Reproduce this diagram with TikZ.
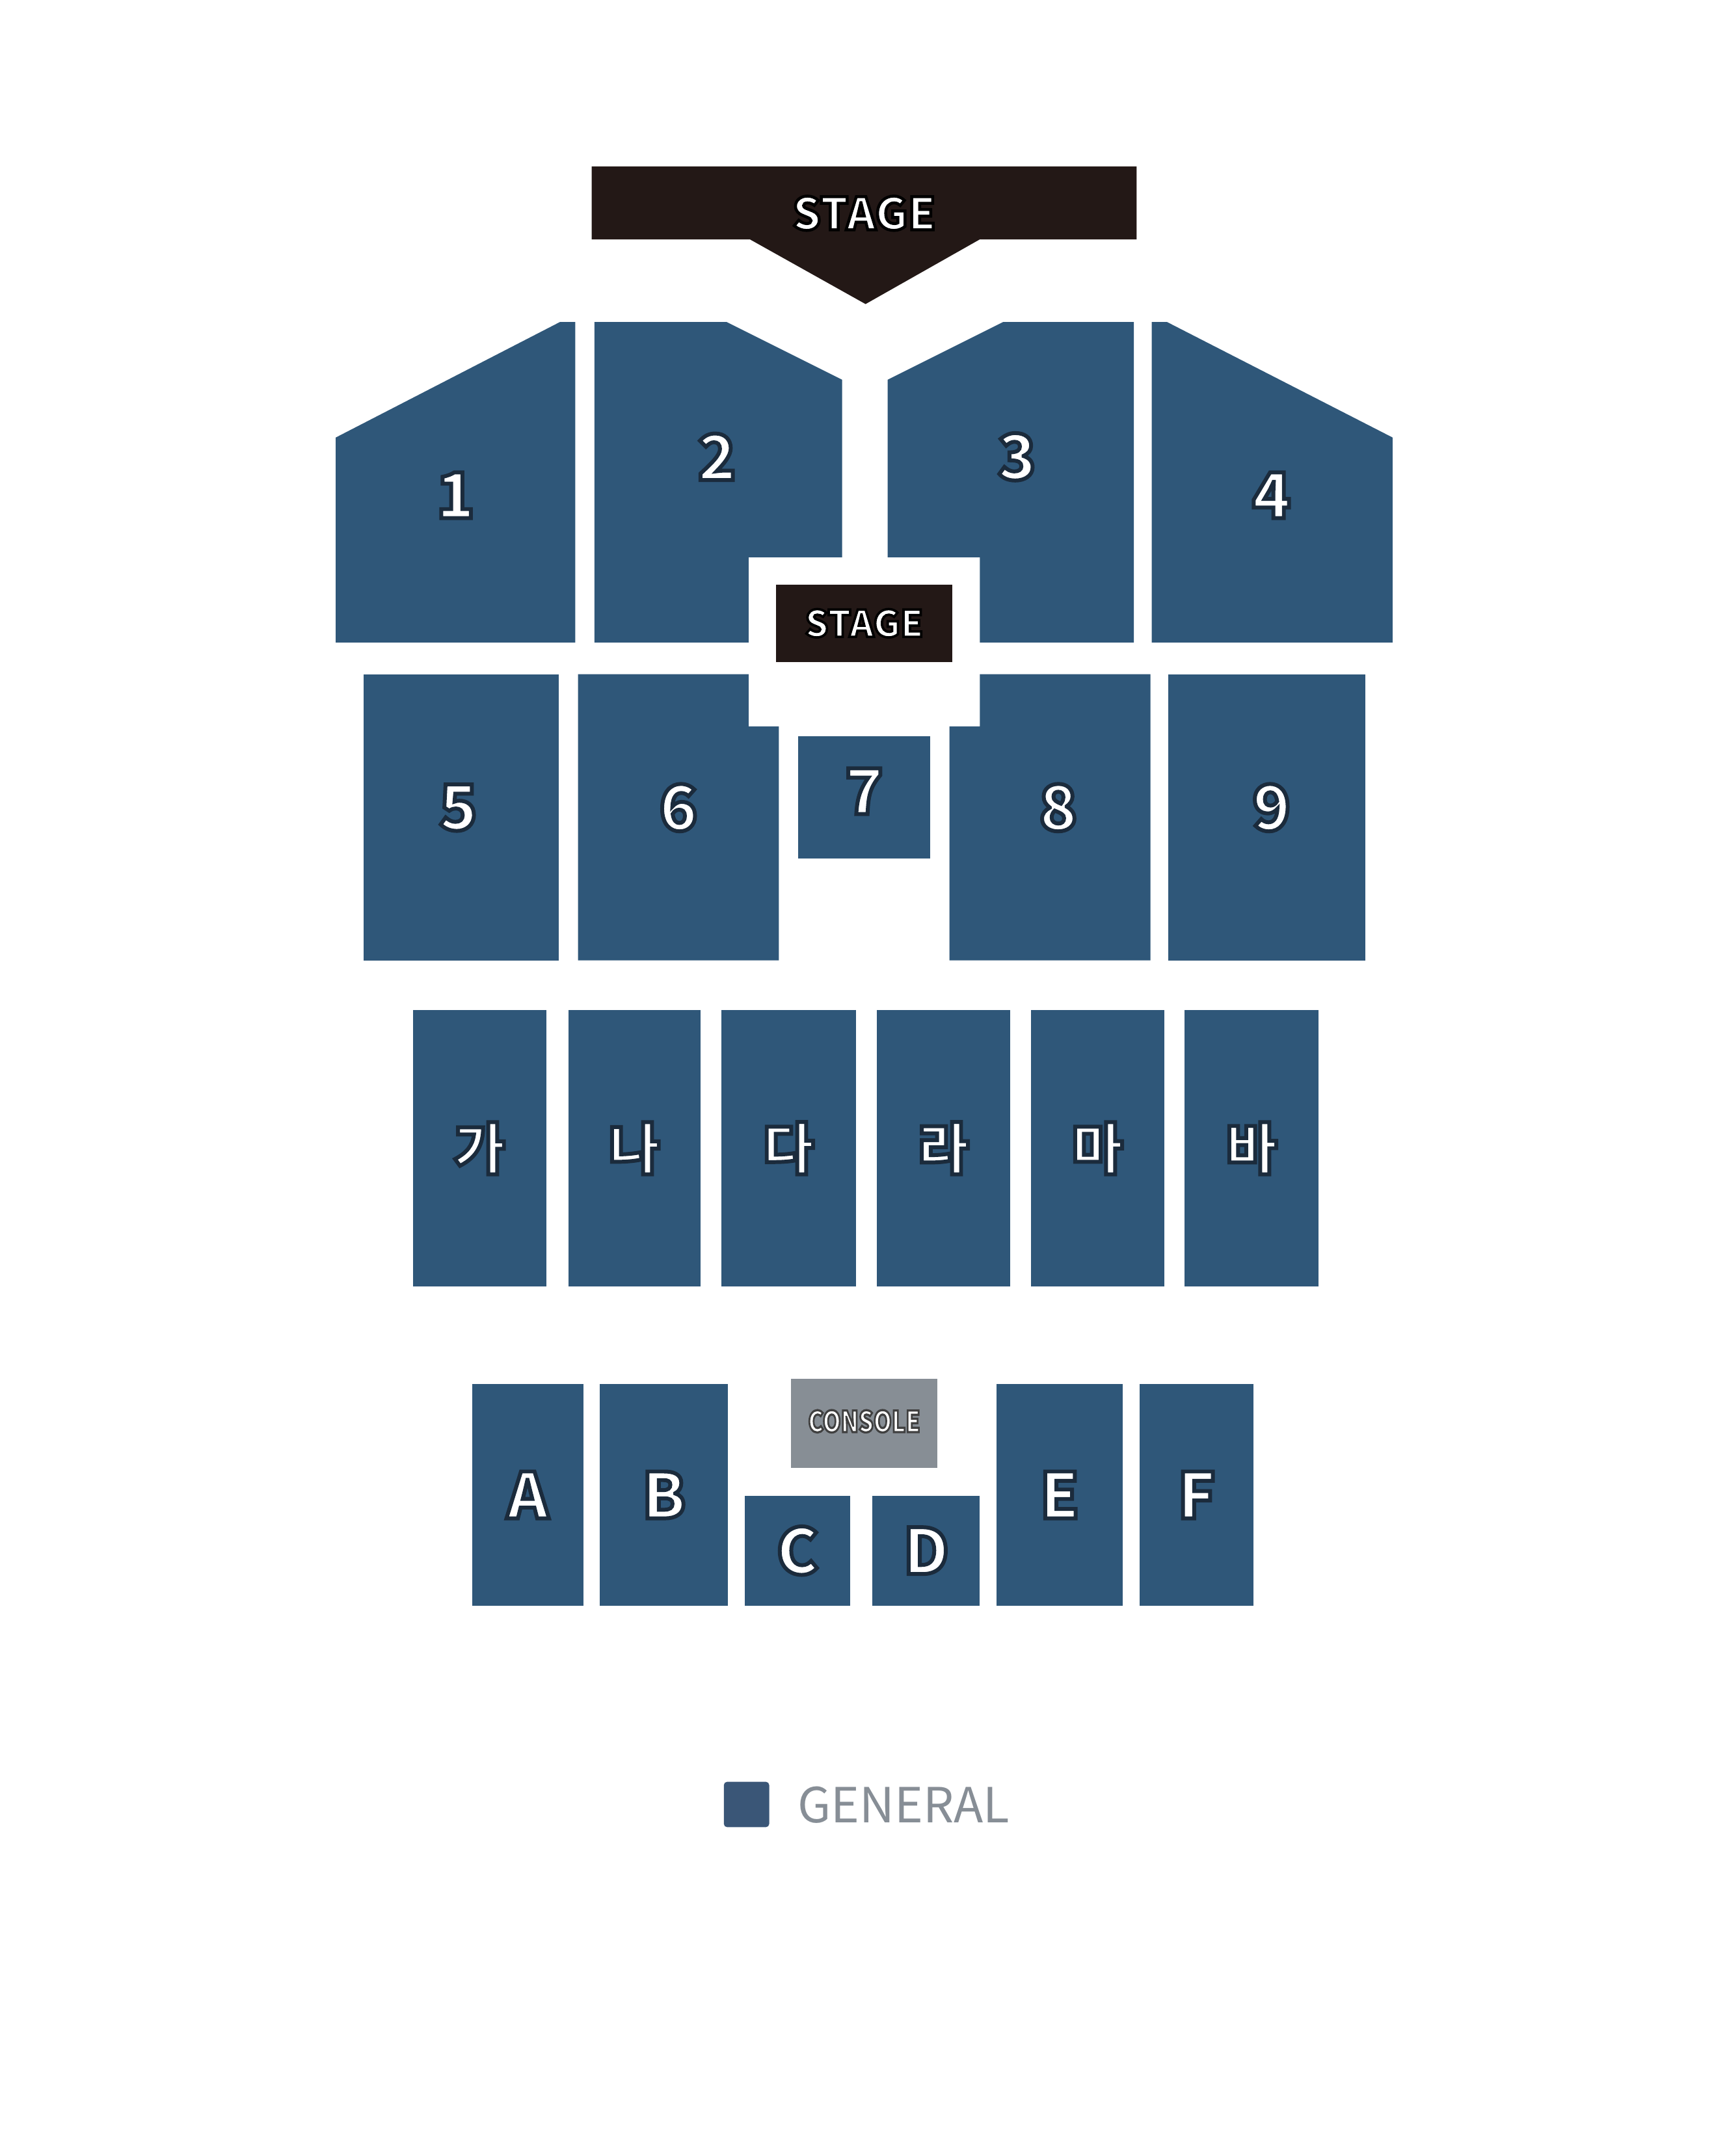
\documentclass[tikz,border=0pt]{standalone}
\usepackage{fontspec}
\usepackage{graphicx}
\newfontfamily\krfont{Noto Sans CJK KR}

\definecolor{seatblue}{HTML}{2F5779}
\definecolor{legendblue}{HTML}{3A5677}
\definecolor{stageblack}{HTML}{231816}
\definecolor{consolegray}{HTML}{878E95}
\definecolor{generalgray}{HTML}{878E96}

% white letters with a dark rim (fill, then stroke)
\newcommand\rimtext[3]{\special{pdf:literal direct #1 RG #2 w 2 Tr}#3\special{pdf:literal direct 0 Tr}}
\newcommand\seatlabel[1]{\rimtext{0.106 0.169 0.235}{0.8}{#1}}
\newcommand\hangul{\fontsize{11.5}{11.5}\selectfont}
\newcommand\seatrect[6]{
  \fill[seat] (#1, #2) rectangle (#3, #4) ;
  \node[seatname] (#5) at ({(#1 + #3) * 0.5}, {(#2 + #4) * 0.5}) {\seatlabel{#6}} ;
}

\tikzset{
  seat/.style={fill=seatblue},
  seatname/.style={text=white, inner sep=0pt, font=\krfont\bfseries\fontsize{13}{13}\selectfont},
  stage/.style={fill=stageblack},
  stagename/.style={text=white, inner sep=0pt, font=\krfont\bfseries\fontsize{9.2}{9.2}\selectfont},
}

\begin{document}
\begin{tikzpicture}[x=0.01cm, y=-0.01cm]
    \useasboundingbox[fill=white] (0, 0) rectangle (1255, 1567) ;
    % main stage
    \fill[stage] (430, 121) -- (826, 121) -- (826, 174) -- (712, 174)
       -- (629, 221) -- (545, 174) -- (430, 174) -- cycle ;
    \node[stagename] (mainstage) at (628, 155) {\rimtext{0 0 0}{0.6}{STAGE}} ;
    % floor, front blocks
    \fill[seat] (244, 318) -- (407, 234) -- (418, 234) -- (418, 467) -- (244, 467) -- cycle ;
    \node[seatname] (s1) at (331, 360) {\seatlabel{1}} ;
    \fill[seat] (432, 234) -- (528, 234) -- (612, 276) -- (612, 405)
       -- (544, 405) -- (544, 467) -- (432, 467) -- cycle ;
    \node[seatname] (s2) at (521, 332) {\seatlabel{2}} ;
    \fill[seat] (645, 276) -- (729, 234) -- (824, 234) -- (824, 467)
       -- (712, 467) -- (712, 405) -- (645, 405) -- cycle ;
    \node[seatname] (s3) at (739, 332) {\seatlabel{3}} ;
    \fill[seat] (837, 234) -- (848, 234) -- (1012, 318) -- (1012, 467) -- (837, 467) -- cycle ;
    \node[seatname] (s4) at (924, 360) {\seatlabel{4}} ;
    % sub stage
    \fill[stage] (564, 425) rectangle (692, 481) ;
    \node[stagename, font=\krfont\bfseries\fontsize{7.6}{7.6}\selectfont] (substage) at (628, 453) {\rimtext{0 0 0}{0.5}{STAGE}} ;
    % second row
    \fill[seat] (264, 490) rectangle (406, 698) ;
    \node[seatname] (s5) at (333, 587) {\seatlabel{5}} ;
    \fill[seat] (420, 490) -- (544, 490) -- (544, 528) -- (566, 528) -- (566, 698) -- (420, 698) -- cycle ;
    \node[seatname] (s6) at (493, 587) {\seatlabel{6}} ;
    \fill[seat] (580, 535) rectangle (676, 624) ;
    \node[seatname] (s7) at (628, 575) {\seatlabel{7}} ;
    \fill[seat] (690, 528) -- (712, 528) -- (712, 490) -- (836, 490) -- (836, 698) -- (690, 698) -- cycle ;
    \node[seatname] (s8) at (769, 587) {\seatlabel{8}} ;
    \fill[seat] (849, 490) rectangle (992, 698) ;
    \node[seatname] (s9) at (924, 587) {\seatlabel{9}} ;
    % third row
    \seatrect{300}{734}{397}{935}{ga}{\hangul 가}
    \seatrect{413}{734}{509}{935}{na}{\hangul 나}
    \seatrect{524}{734}{622}{935}{da}{\hangul 다}
    \seatrect{637}{734}{734}{935}{ra}{\hangul 라}
    \seatrect{749}{734}{846}{935}{ma}{\hangul 마}
    \seatrect{861}{734}{958}{935}{ba}{\hangul 바}
    % back row
    \seatrect{343}{1006}{424}{1167}{sa}{A}
    \seatrect{436}{1006}{529}{1167}{sb}{B}
    \seatrect{541}{1087}{618}{1167}{sc}{C}
    \seatrect{634}{1087}{712}{1167}{sd}{D}
    \seatrect{724}{1006}{816}{1167}{se}{E}
    \seatrect{828}{1006}{911}{1167}{sf}{F}
    \fill[consolegray] (575, 1002) rectangle (681, 1067) ;
    \node[text=white, inner sep=0pt, font=\krfont\bfseries\fontsize{6}{6}\selectfont] (console) at (628, 1033)
      {\scalebox{0.8}[1]{\rimtext{0.25 0.25 0.25}{0.45}{CONSOLE}}} ;
    % legend
    \fill[legendblue, rounded corners=0.7pt] (526, 1295) rectangle (559, 1328) ;
    \node[anchor=west, inner sep=0pt, text=generalgray, font=\krfont\fontsize{10}{10}\selectfont] (general) at (579, 1312) {GENERAL} ;
\end{tikzpicture}
\end{document}
